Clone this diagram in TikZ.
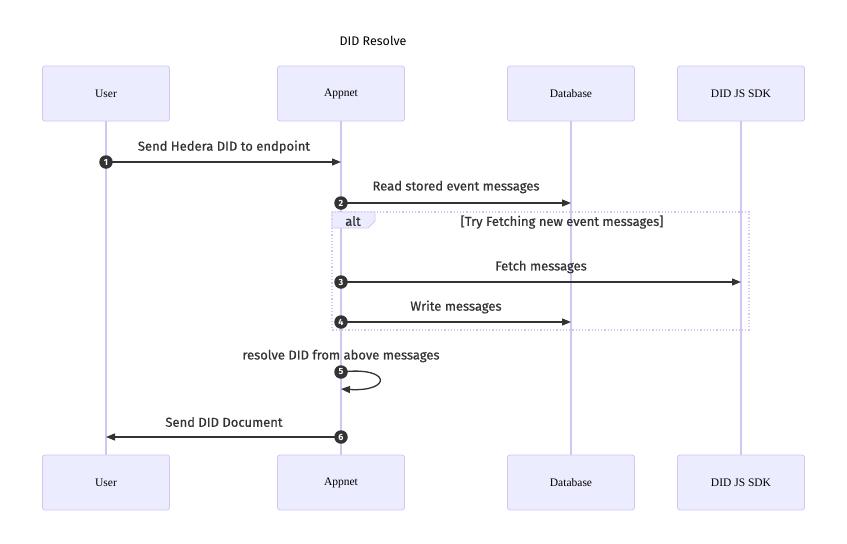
\documentclass[tikz,border=0pt]{standalone}
\usepackage{fontspec}
\setmainfont{Liberation Serif}
\newfontfamily\msgfont[FakeBold=0.6]{Fira Sans}
\newfontfamily\titlefont{Fira Sans}
\usetikzlibrary{arrows.meta}
\definecolor{actfill}{HTML}{ECECFF}
\definecolor{actline}{HTML}{D3C6F2}
\definecolor{txt}{HTML}{333333}
\tikzset{
  actor/.style={draw=actline, fill=actfill, line width=0.8pt, rounded corners=2.5pt,
    minimum width=127pt, minimum height=55pt, inner sep=0pt, font=\fontsize{11.5}{13}\selectfont, text=black},
  life/.style={draw=actline, line width=1.6pt},
  msg/.style={draw=txt, line width=1.3pt, -{Triangle[length=9pt,width=7pt]}},
  lbl/.style={font=\msgfont\fontsize{13}{15}\selectfont, text=txt, inner sep=0pt},
  num/.style={circle, fill=txt, text=white, inner sep=0pt, minimum size=13.5pt,
    font=\titlefont\bfseries\fontsize{9}{10}\selectfont},
  altbox/.style={draw=actline, line width=1.2pt, dotted}
}
\begin{document}
\begin{tikzpicture}[x=1pt,y=-1pt]
\useasboundingbox (0,0) rectangle (847,544);
% title
\node[font=\titlefont\fontsize{12.5}{14}\selectfont, text=black, inner sep=0pt] (title) at (373,41) {DID Resolve};
% actors
\node[actor] (userT) at (106,93.5) {User};
\node[actor] (appT) at (341,93.5) {Appnet};
\node[actor] (dbT) at (571,93.5) {Database};
\node[actor] (sdkT) at (741,93.5) {DID JS SDK};
\node[actor] (userB) at (106,482.5) {User};
\node[actor] (appB) at (341,482.5) {Appnet};
\node[actor] (dbB) at (571,482.5) {Database};
\node[actor] (sdkB) at (741,482.5) {DID JS SDK};
% lifelines
\draw[life] (userT.south) -- (userB.north);
\draw[life] (appT.south) -- (appB.north);
\draw[life] (dbT.south) -- (dbB.north);
\draw[life] (sdkT.south) -- (sdkB.north);
% alt frame
\coordinate (altTL) at (332,212);
\coordinate (altBR) at (749,330);
\draw[altbox] (altTL) rectangle (altBR);
\draw[draw=actline, fill=actfill, line width=0.8pt] (332,212) -- (375,212) -- (375,221) -- (368,228) -- (332,228) -- cycle;
\node[lbl] (altlbl) at (353,221) {alt};
\node[lbl] (cond) at (562,222) {[Try Fetching new event messages]};
% message endpoints
\coordinate (m1s) at (106,162); \coordinate (m1e) at (341,162);
\coordinate (m2s) at (341,203); \coordinate (m2e) at (571,203);
\coordinate (m3s) at (341,282); \coordinate (m3e) at (741,282);
\coordinate (m4s) at (341,322); \coordinate (m4e) at (571,322);
\coordinate (m5s) at (341,372); \coordinate (m5e) at (341,389);
\coordinate (m6s) at (341,437); \coordinate (m6e) at (106,437);
% messages
\draw[msg] (m1s) -- (m1e);
\draw[msg] (m2s) -- (m2e);
\draw[msg] (m3s) -- (m3e);
\draw[msg] (m4s) -- (m4e);
\draw[msg] (m5s) .. controls (392,366) and (392,392) .. (m5e);
\draw[msg] (m6s) -- (m6e);
% labels
\node[lbl] (l1) at (224,147) {Send Hedera DID to endpoint};
\node[lbl] (l2) at (456,187) {Read stored event messages};
\node[lbl] (l3) at (541,267) {Fetch messages};
\node[lbl] (l4) at (456,307) {Write messages};
\node[lbl] (l5) at (341,356) {resolve DID from above messages};
\node[lbl] (l6) at (224,422) {Send DID Document};
% numbers
\node[num] (n1) at (m1s) {1};
\node[num] (n2) at (m2s) {2};
\node[num] (n3) at (m3s) {3};
\node[num] (n4) at (m4s) {4};
\node[num] (n5) at (m5s) {5};
\node[num] (n6) at (m6s) {6};
\end{tikzpicture}
\end{document}
